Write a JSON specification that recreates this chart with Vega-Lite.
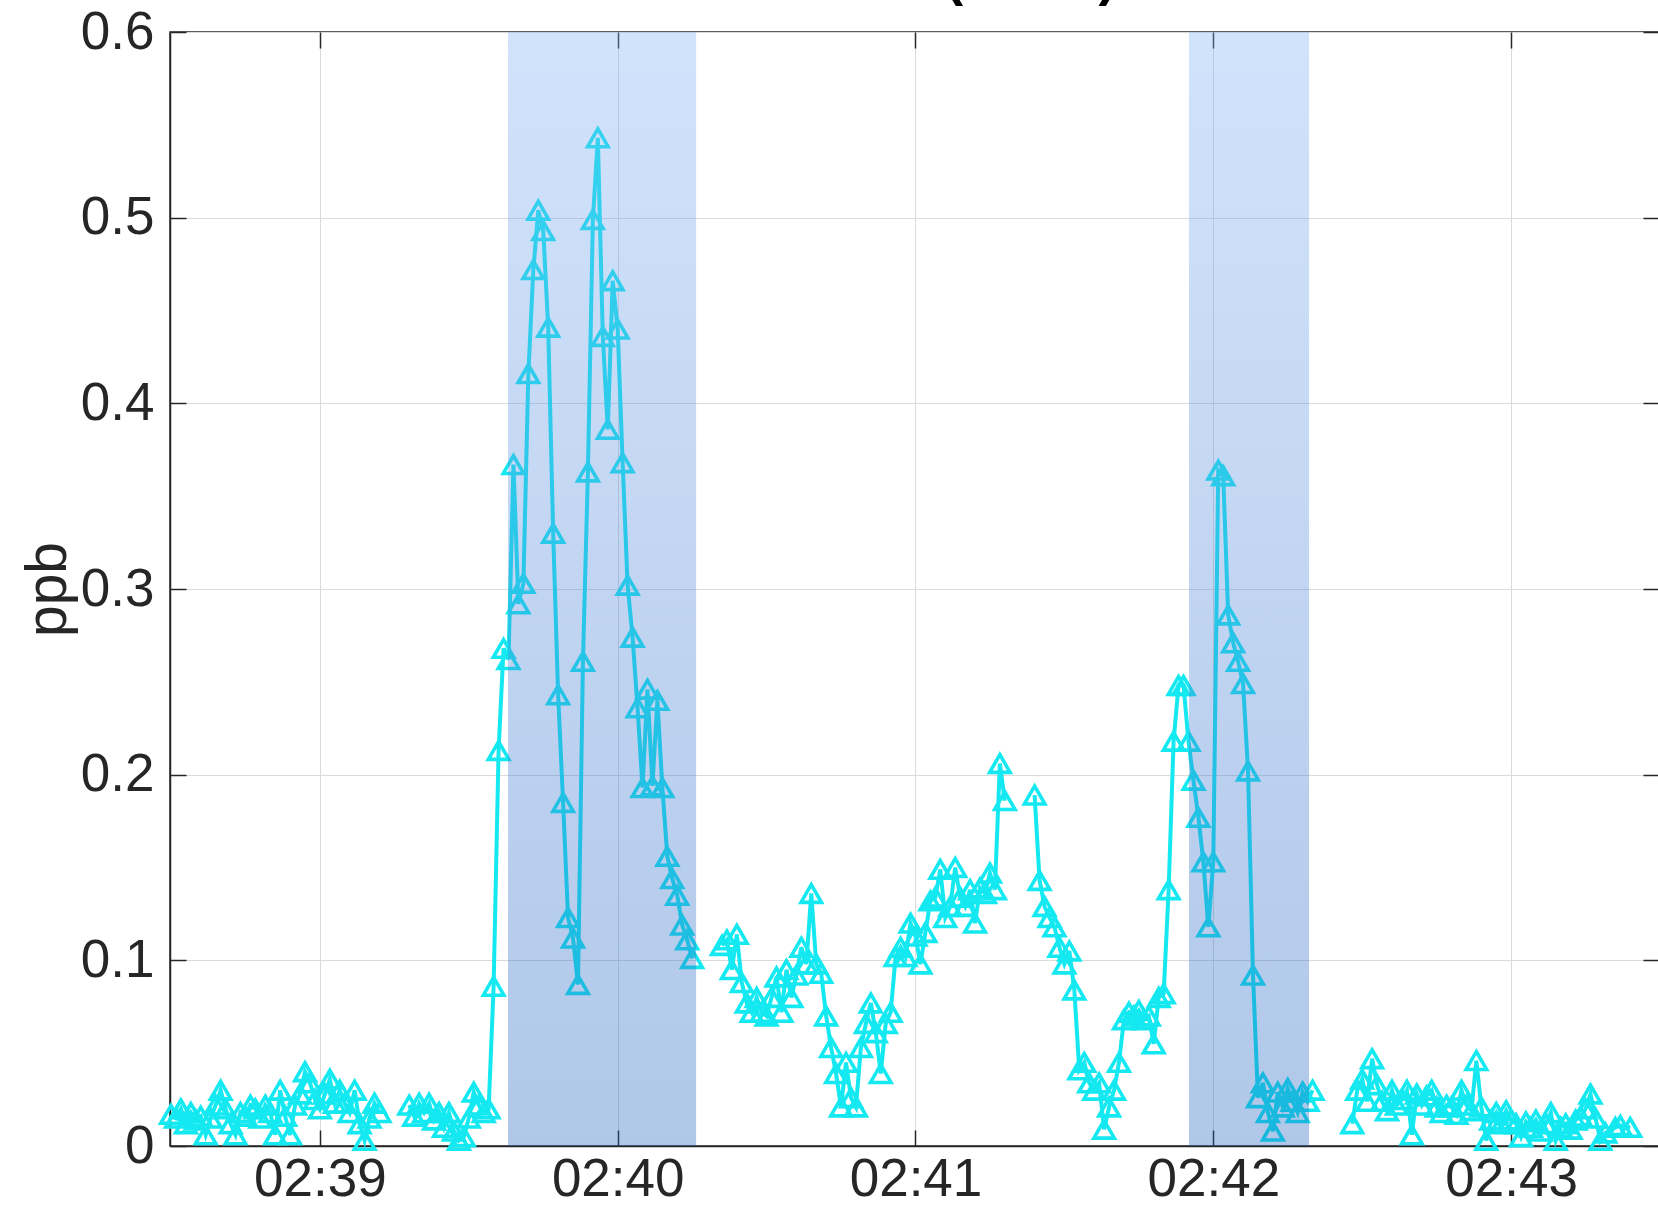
{
  "$schema": "https://vega.github.io/schema/vega-lite/v6.json",
  "width": 1489,
  "height": 1114,
  "autosize": {"type": "none"},
  "padding": {"left": 170, "top": 32, "right": 0, "bottom": 61},
  "background": "white",
  "config": {
    "font": "Liberation Sans",
    "view": {"stroke": "#262626", "strokeWidth": 1.5}
  },
  "title": {
    "text": "Benzene (C6H6)",
    "font": "Liberation Sans",
    "fontSize": 53,
    "fontWeight": "bold",
    "color": "#000000",
    "baseline": "alphabetic",
    "anchor": "middle",
    "frame": "group",
    "offset": 4,
    "dy": 46
  },
  "datasets": {
    "main": [
      {"time": "2021-03-01T02:38:30", "ppb": 0.017},
      {"time": "2021-03-01T02:38:31", "ppb": 0.015},
      {"time": "2021-03-01T02:38:32", "ppb": 0.020},
      {"time": "2021-03-01T02:38:33", "ppb": 0.012},
      {"time": "2021-03-01T02:38:34", "ppb": 0.018},
      {"time": "2021-03-01T02:38:35", "ppb": 0.014},
      {"time": "2021-03-01T02:38:36", "ppb": 0.016},
      {"time": "2021-03-01T02:38:37", "ppb": 0.006},
      {"time": "2021-03-01T02:38:38", "ppb": 0.015},
      {"time": "2021-03-01T02:38:39", "ppb": 0.022},
      {"time": "2021-03-01T02:38:40", "ppb": 0.030},
      {"time": "2021-03-01T02:38:41", "ppb": 0.020},
      {"time": "2021-03-01T02:38:42", "ppb": 0.012},
      {"time": "2021-03-01T02:38:43", "ppb": 0.006},
      {"time": "2021-03-01T02:38:44", "ppb": 0.018},
      {"time": "2021-03-01T02:38:45", "ppb": 0.016},
      {"time": "2021-03-01T02:38:46", "ppb": 0.022},
      {"time": "2021-03-01T02:38:47", "ppb": 0.020},
      {"time": "2021-03-01T02:38:48", "ppb": 0.015},
      {"time": "2021-03-01T02:38:49", "ppb": 0.022},
      {"time": "2021-03-01T02:38:50", "ppb": 0.018},
      {"time": "2021-03-01T02:38:51", "ppb": 0.006},
      {"time": "2021-03-01T02:38:52", "ppb": 0.030},
      {"time": "2021-03-01T02:38:53", "ppb": 0.016},
      {"time": "2021-03-01T02:38:54", "ppb": 0.006},
      {"time": "2021-03-01T02:38:55", "ppb": 0.022},
      {"time": "2021-03-01T02:38:56", "ppb": 0.028},
      {"time": "2021-03-01T02:38:57", "ppb": 0.040},
      {"time": "2021-03-01T02:38:58", "ppb": 0.034},
      {"time": "2021-03-01T02:38:59", "ppb": 0.025},
      {"time": "2021-03-01T02:39:00", "ppb": 0.020},
      {"time": "2021-03-01T02:39:01", "ppb": 0.028},
      {"time": "2021-03-01T02:39:02", "ppb": 0.036},
      {"time": "2021-03-01T02:39:03", "ppb": 0.023},
      {"time": "2021-03-01T02:39:04", "ppb": 0.030},
      {"time": "2021-03-01T02:39:05", "ppb": 0.023},
      {"time": "2021-03-01T02:39:06", "ppb": 0.018},
      {"time": "2021-03-01T02:39:07", "ppb": 0.030},
      {"time": "2021-03-01T02:39:08", "ppb": 0.012},
      {"time": "2021-03-01T02:39:09", "ppb": 0.003},
      {"time": "2021-03-01T02:39:10", "ppb": 0.015},
      {"time": "2021-03-01T02:39:11", "ppb": 0.023},
      {"time": "2021-03-01T02:39:12", "ppb": 0.018},
      {"time": "2021-03-01T02:39:15", "ppb": null},
      {"time": "2021-03-01T02:39:18", "ppb": 0.022},
      {"time": "2021-03-01T02:39:19", "ppb": 0.016},
      {"time": "2021-03-01T02:39:20", "ppb": 0.023},
      {"time": "2021-03-01T02:39:21", "ppb": 0.018},
      {"time": "2021-03-01T02:39:22", "ppb": 0.023},
      {"time": "2021-03-01T02:39:23", "ppb": 0.014},
      {"time": "2021-03-01T02:39:24", "ppb": 0.018},
      {"time": "2021-03-01T02:39:25", "ppb": 0.010},
      {"time": "2021-03-01T02:39:26", "ppb": 0.018},
      {"time": "2021-03-01T02:39:27", "ppb": 0.008},
      {"time": "2021-03-01T02:39:28", "ppb": 0.003},
      {"time": "2021-03-01T02:39:29", "ppb": 0.005},
      {"time": "2021-03-01T02:39:30", "ppb": 0.015},
      {"time": "2021-03-01T02:39:31", "ppb": 0.029},
      {"time": "2021-03-01T02:39:32", "ppb": 0.022},
      {"time": "2021-03-01T02:39:33", "ppb": 0.018},
      {"time": "2021-03-01T02:39:34", "ppb": 0.020},
      {"time": "2021-03-01T02:39:35", "ppb": 0.086},
      {"time": "2021-03-01T02:39:36", "ppb": 0.213},
      {"time": "2021-03-01T02:39:37", "ppb": 0.268},
      {"time": "2021-03-01T02:39:38", "ppb": 0.262},
      {"time": "2021-03-01T02:39:39", "ppb": 0.367},
      {"time": "2021-03-01T02:39:40", "ppb": 0.292},
      {"time": "2021-03-01T02:39:41", "ppb": 0.303},
      {"time": "2021-03-01T02:39:42", "ppb": 0.416},
      {"time": "2021-03-01T02:39:43", "ppb": 0.472},
      {"time": "2021-03-01T02:39:44", "ppb": 0.504},
      {"time": "2021-03-01T02:39:45", "ppb": 0.493},
      {"time": "2021-03-01T02:39:46", "ppb": 0.441},
      {"time": "2021-03-01T02:39:47", "ppb": 0.330},
      {"time": "2021-03-01T02:39:48", "ppb": 0.243},
      {"time": "2021-03-01T02:39:49", "ppb": 0.185},
      {"time": "2021-03-01T02:39:50", "ppb": 0.123},
      {"time": "2021-03-01T02:39:51", "ppb": 0.112},
      {"time": "2021-03-01T02:39:52", "ppb": 0.087},
      {"time": "2021-03-01T02:39:53", "ppb": 0.261},
      {"time": "2021-03-01T02:39:54", "ppb": 0.363},
      {"time": "2021-03-01T02:39:55", "ppb": 0.499},
      {"time": "2021-03-01T02:39:56", "ppb": 0.543},
      {"time": "2021-03-01T02:39:57", "ppb": 0.436},
      {"time": "2021-03-01T02:39:58", "ppb": 0.386},
      {"time": "2021-03-01T02:39:59", "ppb": 0.466},
      {"time": "2021-03-01T02:40:00", "ppb": 0.440},
      {"time": "2021-03-01T02:40:01", "ppb": 0.368},
      {"time": "2021-03-01T02:40:02", "ppb": 0.302},
      {"time": "2021-03-01T02:40:03", "ppb": 0.274},
      {"time": "2021-03-01T02:40:04", "ppb": 0.236},
      {"time": "2021-03-01T02:40:05", "ppb": 0.193},
      {"time": "2021-03-01T02:40:06", "ppb": 0.246},
      {"time": "2021-03-01T02:40:07", "ppb": 0.194},
      {"time": "2021-03-01T02:40:08", "ppb": 0.240},
      {"time": "2021-03-01T02:40:09", "ppb": 0.193},
      {"time": "2021-03-01T02:40:10", "ppb": 0.156},
      {"time": "2021-03-01T02:40:11", "ppb": 0.144},
      {"time": "2021-03-01T02:40:12", "ppb": 0.135},
      {"time": "2021-03-01T02:40:13", "ppb": 0.119},
      {"time": "2021-03-01T02:40:14", "ppb": 0.111},
      {"time": "2021-03-01T02:40:15", "ppb": 0.101},
      {"time": "2021-03-01T02:40:18", "ppb": null},
      {"time": "2021-03-01T02:40:21", "ppb": 0.108},
      {"time": "2021-03-01T02:40:22", "ppb": 0.111},
      {"time": "2021-03-01T02:40:23", "ppb": 0.095},
      {"time": "2021-03-01T02:40:24", "ppb": 0.114},
      {"time": "2021-03-01T02:40:25", "ppb": 0.088},
      {"time": "2021-03-01T02:40:26", "ppb": 0.077},
      {"time": "2021-03-01T02:40:27", "ppb": 0.072},
      {"time": "2021-03-01T02:40:28", "ppb": 0.080},
      {"time": "2021-03-01T02:40:29", "ppb": 0.072},
      {"time": "2021-03-01T02:40:30", "ppb": 0.070},
      {"time": "2021-03-01T02:40:31", "ppb": 0.080},
      {"time": "2021-03-01T02:40:32", "ppb": 0.091},
      {"time": "2021-03-01T02:40:33", "ppb": 0.072},
      {"time": "2021-03-01T02:40:34", "ppb": 0.095},
      {"time": "2021-03-01T02:40:35", "ppb": 0.080},
      {"time": "2021-03-01T02:40:36", "ppb": 0.092},
      {"time": "2021-03-01T02:40:37", "ppb": 0.107},
      {"time": "2021-03-01T02:40:38", "ppb": 0.098},
      {"time": "2021-03-01T02:40:39", "ppb": 0.136},
      {"time": "2021-03-01T02:40:40", "ppb": 0.098},
      {"time": "2021-03-01T02:40:41", "ppb": 0.093},
      {"time": "2021-03-01T02:40:42", "ppb": 0.070},
      {"time": "2021-03-01T02:40:43", "ppb": 0.053},
      {"time": "2021-03-01T02:40:44", "ppb": 0.039},
      {"time": "2021-03-01T02:40:45", "ppb": 0.021},
      {"time": "2021-03-01T02:40:46", "ppb": 0.045},
      {"time": "2021-03-01T02:40:47", "ppb": 0.026},
      {"time": "2021-03-01T02:40:48", "ppb": 0.021},
      {"time": "2021-03-01T02:40:49", "ppb": 0.053},
      {"time": "2021-03-01T02:40:50", "ppb": 0.066},
      {"time": "2021-03-01T02:40:51", "ppb": 0.077},
      {"time": "2021-03-01T02:40:52", "ppb": 0.061},
      {"time": "2021-03-01T02:40:53", "ppb": 0.039},
      {"time": "2021-03-01T02:40:54", "ppb": 0.066},
      {"time": "2021-03-01T02:40:55", "ppb": 0.072},
      {"time": "2021-03-01T02:40:56", "ppb": 0.102},
      {"time": "2021-03-01T02:40:57", "ppb": 0.107},
      {"time": "2021-03-01T02:40:58", "ppb": 0.102},
      {"time": "2021-03-01T02:40:59", "ppb": 0.120},
      {"time": "2021-03-01T02:41:00", "ppb": 0.113},
      {"time": "2021-03-01T02:41:01", "ppb": 0.098},
      {"time": "2021-03-01T02:41:02", "ppb": 0.115},
      {"time": "2021-03-01T02:41:03", "ppb": 0.132},
      {"time": "2021-03-01T02:41:04", "ppb": 0.134},
      {"time": "2021-03-01T02:41:05", "ppb": 0.149},
      {"time": "2021-03-01T02:41:06", "ppb": 0.123},
      {"time": "2021-03-01T02:41:07", "ppb": 0.129},
      {"time": "2021-03-01T02:41:08", "ppb": 0.150},
      {"time": "2021-03-01T02:41:09", "ppb": 0.134},
      {"time": "2021-03-01T02:41:10", "ppb": 0.129},
      {"time": "2021-03-01T02:41:11", "ppb": 0.138},
      {"time": "2021-03-01T02:41:12", "ppb": 0.120},
      {"time": "2021-03-01T02:41:13", "ppb": 0.139},
      {"time": "2021-03-01T02:41:14", "ppb": 0.136},
      {"time": "2021-03-01T02:41:15", "ppb": 0.147},
      {"time": "2021-03-01T02:41:16", "ppb": 0.138},
      {"time": "2021-03-01T02:41:17", "ppb": 0.206},
      {"time": "2021-03-01T02:41:18", "ppb": 0.186},
      {"time": "2021-03-01T02:41:21", "ppb": null},
      {"time": "2021-03-01T02:41:24", "ppb": 0.189},
      {"time": "2021-03-01T02:41:25", "ppb": 0.143},
      {"time": "2021-03-01T02:41:26", "ppb": 0.129},
      {"time": "2021-03-01T02:41:27", "ppb": 0.123},
      {"time": "2021-03-01T02:41:28", "ppb": 0.118},
      {"time": "2021-03-01T02:41:29", "ppb": 0.107},
      {"time": "2021-03-01T02:41:30", "ppb": 0.098},
      {"time": "2021-03-01T02:41:31", "ppb": 0.105},
      {"time": "2021-03-01T02:41:32", "ppb": 0.084},
      {"time": "2021-03-01T02:41:33", "ppb": 0.041},
      {"time": "2021-03-01T02:41:34", "ppb": 0.045},
      {"time": "2021-03-01T02:41:35", "ppb": 0.034},
      {"time": "2021-03-01T02:41:36", "ppb": 0.030},
      {"time": "2021-03-01T02:41:37", "ppb": 0.034},
      {"time": "2021-03-01T02:41:38", "ppb": 0.009},
      {"time": "2021-03-01T02:41:39", "ppb": 0.021},
      {"time": "2021-03-01T02:41:40", "ppb": 0.030},
      {"time": "2021-03-01T02:41:41", "ppb": 0.045},
      {"time": "2021-03-01T02:41:42", "ppb": 0.068},
      {"time": "2021-03-01T02:41:43", "ppb": 0.072},
      {"time": "2021-03-01T02:41:44", "ppb": 0.070},
      {"time": "2021-03-01T02:41:45", "ppb": 0.073},
      {"time": "2021-03-01T02:41:46", "ppb": 0.068},
      {"time": "2021-03-01T02:41:47", "ppb": 0.070},
      {"time": "2021-03-01T02:41:48", "ppb": 0.055},
      {"time": "2021-03-01T02:41:49", "ppb": 0.080},
      {"time": "2021-03-01T02:41:50", "ppb": 0.082},
      {"time": "2021-03-01T02:41:51", "ppb": 0.138},
      {"time": "2021-03-01T02:41:52", "ppb": 0.218},
      {"time": "2021-03-01T02:41:53", "ppb": 0.248},
      {"time": "2021-03-01T02:41:54", "ppb": 0.248},
      {"time": "2021-03-01T02:41:55", "ppb": 0.218},
      {"time": "2021-03-01T02:41:56", "ppb": 0.197},
      {"time": "2021-03-01T02:41:57", "ppb": 0.177},
      {"time": "2021-03-01T02:41:58", "ppb": 0.153},
      {"time": "2021-03-01T02:41:59", "ppb": 0.118},
      {"time": "2021-03-01T02:42:00", "ppb": 0.153},
      {"time": "2021-03-01T02:42:01", "ppb": 0.364},
      {"time": "2021-03-01T02:42:02", "ppb": 0.361},
      {"time": "2021-03-01T02:42:03", "ppb": 0.286},
      {"time": "2021-03-01T02:42:04", "ppb": 0.271},
      {"time": "2021-03-01T02:42:05", "ppb": 0.261},
      {"time": "2021-03-01T02:42:06", "ppb": 0.249},
      {"time": "2021-03-01T02:42:07", "ppb": 0.202},
      {"time": "2021-03-01T02:42:08", "ppb": 0.092},
      {"time": "2021-03-01T02:42:09", "ppb": 0.026},
      {"time": "2021-03-01T02:42:10", "ppb": 0.034},
      {"time": "2021-03-01T02:42:11", "ppb": 0.018},
      {"time": "2021-03-01T02:42:12", "ppb": 0.008},
      {"time": "2021-03-01T02:42:13", "ppb": 0.029},
      {"time": "2021-03-01T02:42:14", "ppb": 0.021},
      {"time": "2021-03-01T02:42:15", "ppb": 0.031},
      {"time": "2021-03-01T02:42:16", "ppb": 0.024},
      {"time": "2021-03-01T02:42:17", "ppb": 0.018},
      {"time": "2021-03-01T02:42:18", "ppb": 0.029},
      {"time": "2021-03-01T02:42:19", "ppb": 0.024},
      {"time": "2021-03-01T02:42:20", "ppb": 0.030},
      {"time": "2021-03-01T02:42:24", "ppb": null},
      {"time": "2021-03-01T02:42:28", "ppb": 0.012},
      {"time": "2021-03-01T02:42:29", "ppb": 0.030},
      {"time": "2021-03-01T02:42:30", "ppb": 0.036},
      {"time": "2021-03-01T02:42:31", "ppb": 0.024},
      {"time": "2021-03-01T02:42:32", "ppb": 0.047},
      {"time": "2021-03-01T02:42:33", "ppb": 0.033},
      {"time": "2021-03-01T02:42:34", "ppb": 0.024},
      {"time": "2021-03-01T02:42:35", "ppb": 0.019},
      {"time": "2021-03-01T02:42:36", "ppb": 0.030},
      {"time": "2021-03-01T02:42:37", "ppb": 0.022},
      {"time": "2021-03-01T02:42:38", "ppb": 0.025},
      {"time": "2021-03-01T02:42:39", "ppb": 0.030},
      {"time": "2021-03-01T02:42:40", "ppb": 0.006},
      {"time": "2021-03-01T02:42:41", "ppb": 0.028},
      {"time": "2021-03-01T02:42:42", "ppb": 0.022},
      {"time": "2021-03-01T02:42:43", "ppb": 0.027},
      {"time": "2021-03-01T02:42:44", "ppb": 0.030},
      {"time": "2021-03-01T02:42:45", "ppb": 0.021},
      {"time": "2021-03-01T02:42:46", "ppb": 0.018},
      {"time": "2021-03-01T02:42:47", "ppb": 0.022},
      {"time": "2021-03-01T02:42:48", "ppb": 0.021},
      {"time": "2021-03-01T02:42:49", "ppb": 0.017},
      {"time": "2021-03-01T02:42:50", "ppb": 0.030},
      {"time": "2021-03-01T02:42:51", "ppb": 0.022},
      {"time": "2021-03-01T02:42:52", "ppb": 0.019},
      {"time": "2021-03-01T02:42:53", "ppb": 0.046},
      {"time": "2021-03-01T02:42:54", "ppb": 0.021},
      {"time": "2021-03-01T02:42:55", "ppb": 0.003},
      {"time": "2021-03-01T02:42:56", "ppb": 0.014},
      {"time": "2021-03-01T02:42:57", "ppb": 0.018},
      {"time": "2021-03-01T02:42:58", "ppb": 0.012},
      {"time": "2021-03-01T02:42:59", "ppb": 0.019},
      {"time": "2021-03-01T02:43:00", "ppb": 0.014},
      {"time": "2021-03-01T02:43:01", "ppb": 0.012},
      {"time": "2021-03-01T02:43:02", "ppb": 0.005},
      {"time": "2021-03-01T02:43:03", "ppb": 0.013},
      {"time": "2021-03-01T02:43:04", "ppb": 0.010},
      {"time": "2021-03-01T02:43:05", "ppb": 0.014},
      {"time": "2021-03-01T02:43:06", "ppb": 0.008},
      {"time": "2021-03-01T02:43:07", "ppb": 0.012},
      {"time": "2021-03-01T02:43:08", "ppb": 0.018},
      {"time": "2021-03-01T02:43:09", "ppb": 0.003},
      {"time": "2021-03-01T02:43:10", "ppb": 0.010},
      {"time": "2021-03-01T02:43:11", "ppb": 0.012},
      {"time": "2021-03-01T02:43:12", "ppb": 0.009},
      {"time": "2021-03-01T02:43:13", "ppb": 0.014},
      {"time": "2021-03-01T02:43:14", "ppb": 0.016},
      {"time": "2021-03-01T02:43:15", "ppb": 0.020},
      {"time": "2021-03-01T02:43:16", "ppb": 0.028},
      {"time": "2021-03-01T02:43:17", "ppb": 0.015},
      {"time": "2021-03-01T02:43:18", "ppb": 0.003},
      {"time": "2021-03-01T02:43:19", "ppb": 0.007},
      {"time": "2021-03-01T02:43:21", "ppb": 0.010},
      {"time": "2021-03-01T02:43:22", "ppb": 0.011},
      {"time": "2021-03-01T02:43:24", "ppb": 0.010}
    ],
    "bands": [
      {"start": "2021-03-01T02:39:37.900", "end": "2021-03-01T02:40:15.800"},
      {"start": "2021-03-01T02:41:55.100", "end": "2021-03-01T02:42:19.300"}
    ]
  },
  "layer": [
    {
      "data": {"name": "main"},
      "mark": {"type": "line", "color": "#14e8f0", "strokeWidth": 4},
      "encoding": {
        "x": {
          "field": "time", "type": "temporal",
          "scale": {"domain": [
            {"year": 2021, "month": 3, "date": 1, "hours": 2, "minutes": 38, "seconds": 29, "milliseconds": 800},
            {"year": 2021, "month": 3, "date": 1, "hours": 2, "minutes": 43, "seconds": 29, "milliseconds": 800}
          ], "nice": false},
          "axis": {
            "orient": "bottom",
            "values": [
              {"year": 2021, "month": 3, "date": 1, "hours": 2, "minutes": 39},
              {"year": 2021, "month": 3, "date": 1, "hours": 2, "minutes": 40},
              {"year": 2021, "month": 3, "date": 1, "hours": 2, "minutes": 41},
              {"year": 2021, "month": 3, "date": 1, "hours": 2, "minutes": 42},
              {"year": 2021, "month": 3, "date": 1, "hours": 2, "minutes": 43}
            ],
            "format": "%H:%M",
            "title": null,
            "grid": true, "gridColor": "#dadada", "gridWidth": 1,
            "domain": true, "domainColor": "#262626", "domainWidth": 1.5,
            "ticks": true, "tickSize": -16, "tickColor": "#262626", "tickWidth": 1.5,
            "labelFont": "Liberation Sans", "labelFontSize": 53, "labelColor": "#262626",
            "labelPadding": 23, "labelFlush": false, "labelOverlap": false
          }
        },
        "y": {
          "field": "ppb", "type": "quantitative",
          "scale": {"domain": [0, 0.6], "nice": false},
          "axis": {
            "orient": "left",
            "values": [0, 0.1, 0.2, 0.3, 0.4, 0.5, 0.6],
            "format": "~g",
            "title": "ppb",
            "titleFont": "Liberation Sans", "titleFontSize": 57, "titleFontWeight": "normal",
            "titleColor": "#262626", "titlePadding": 3,
            "grid": true, "gridColor": "#dadada", "gridWidth": 1,
            "domain": true, "domainColor": "#262626", "domainWidth": 1.5,
            "ticks": true, "tickSize": -16, "tickColor": "#262626", "tickWidth": 1.5,
            "labelFont": "Liberation Sans", "labelFontSize": 53, "labelColor": "#262626",
            "labelPadding": 32, "labelOverlap": false, "labelFlush": false
          }
        }
      }
    },
    {
      "data": {"name": "main"},
      "mark": {"type": "point", "shape": "triangle-up", "filled": false, "size": 420, "strokeWidth": 3.6, "color": "#14e8f0", "opacity": 1},
      "encoding": {
        "x": {
          "field": "time", "type": "temporal",
          "scale": {"domain": [
            {"year": 2021, "month": 3, "date": 1, "hours": 2, "minutes": 38, "seconds": 29, "milliseconds": 800},
            {"year": 2021, "month": 3, "date": 1, "hours": 2, "minutes": 43, "seconds": 29, "milliseconds": 800}
          ], "nice": false},
          "axis": null
        },
        "y": {
          "field": "ppb", "type": "quantitative",
          "scale": {"domain": [0, 0.6], "nice": false},
          "axis": {
            "orient": "right",
            "values": [0, 0.1, 0.2, 0.3, 0.4, 0.5, 0.6],
            "title": null, "labels": false, "grid": false, "domain": false,
            "ticks": true, "tickSize": -16, "tickColor": "#262626", "tickWidth": 1.5
          }
        }
      }
    },
    {
      "data": {"name": "bands"},
      "mark": {
        "type": "rect",
        "fill": {
          "gradient": "linear", "x1": 0, "y1": 0, "x2": 0, "y2": 1,
          "stops": [
            {"offset": 0, "color": "#7dafF5"},
            {"offset": 1, "color": "#1e5fbe"}
          ]
        },
        "fillOpacity": 0.35,
        "strokeWidth": 0
      },
      "encoding": {
        "x": {
          "field": "start", "type": "temporal",
          "scale": {"domain": [
            {"year": 2021, "month": 3, "date": 1, "hours": 2, "minutes": 38, "seconds": 29, "milliseconds": 800},
            {"year": 2021, "month": 3, "date": 1, "hours": 2, "minutes": 43, "seconds": 29, "milliseconds": 800}
          ], "nice": false},
          "axis": {
            "orient": "top",
            "values": [
              {"year": 2021, "month": 3, "date": 1, "hours": 2, "minutes": 39},
              {"year": 2021, "month": 3, "date": 1, "hours": 2, "minutes": 40},
              {"year": 2021, "month": 3, "date": 1, "hours": 2, "minutes": 41},
              {"year": 2021, "month": 3, "date": 1, "hours": 2, "minutes": 42},
              {"year": 2021, "month": 3, "date": 1, "hours": 2, "minutes": 43}
            ],
            "title": null, "labels": false, "grid": false, "domain": false,
            "ticks": true, "tickSize": -16, "tickColor": "#262626", "tickWidth": 1.5
          }
        },
        "x2": {"field": "end"}
      }
    }
  ],
  "resolve": {"axis": {"x": "independent", "y": "independent"}}
}
